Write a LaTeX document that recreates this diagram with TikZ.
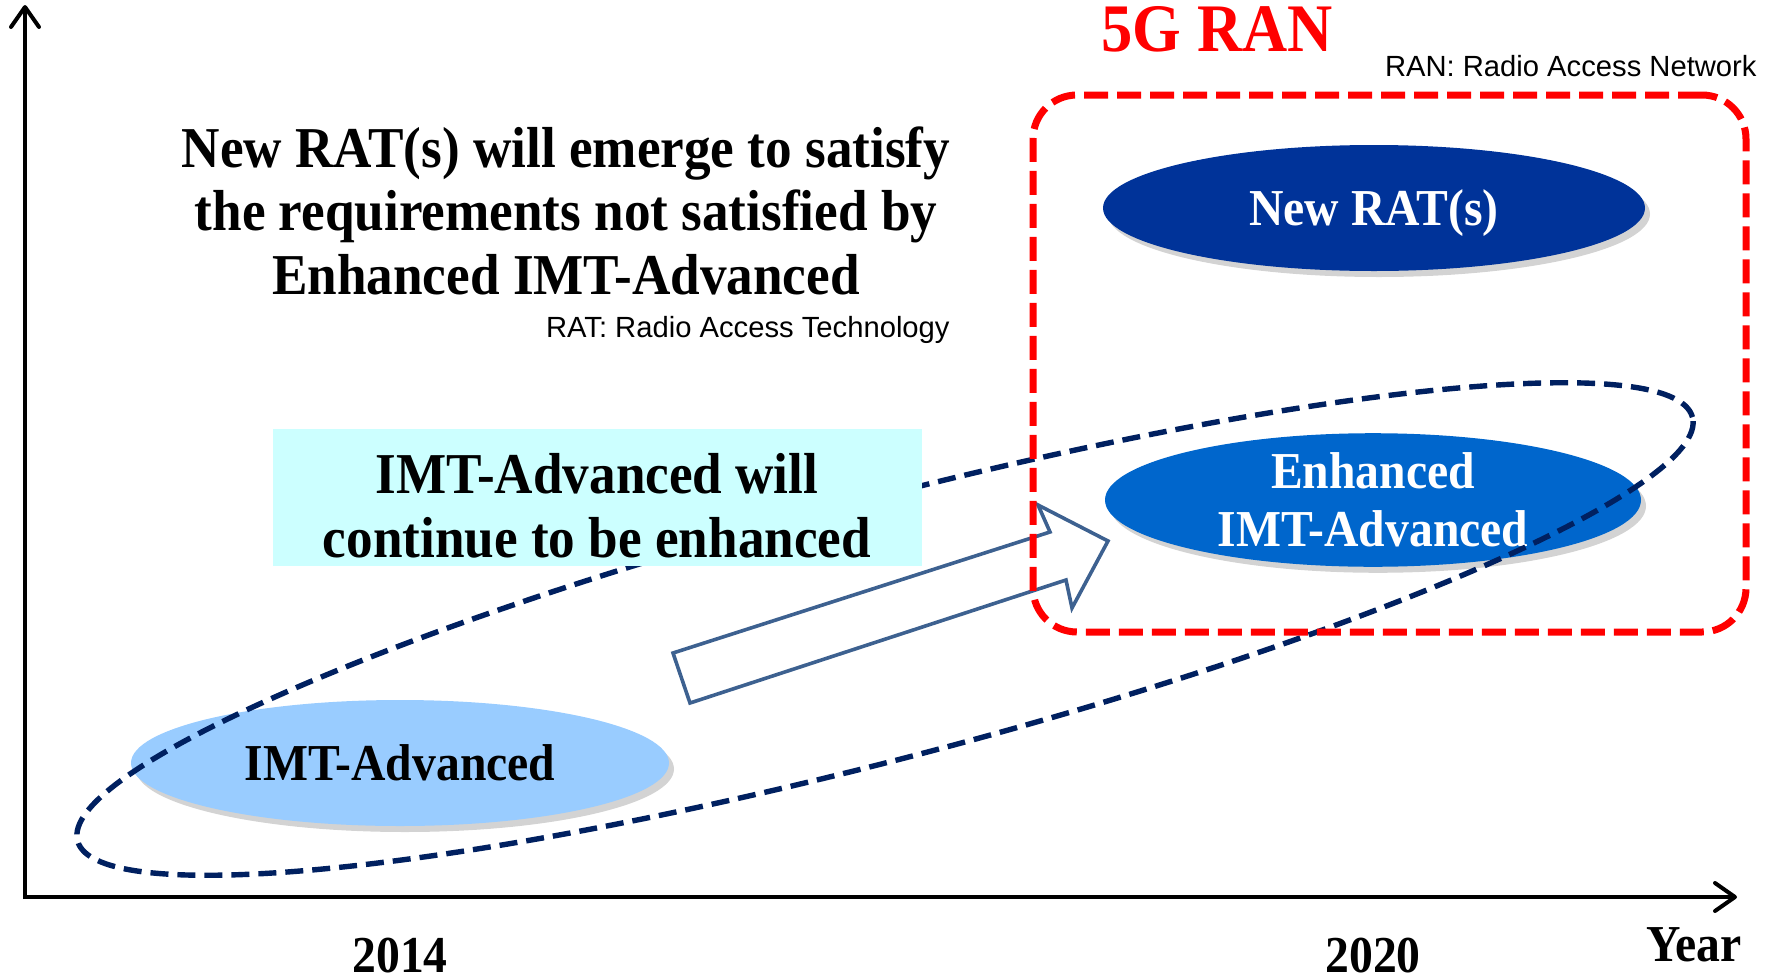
\documentclass[tikz,border=0pt]{standalone}
\usepackage{fontspec}
\setmainfont{Liberation Serif}[FakeStretch=0.92]
\newfontfamily\lsans{Liberation Sans}
\usetikzlibrary{arrows.meta,shapes.geometric,shadows}
\definecolor{navyline}{HTML}{002060}
\definecolor{newrat}{HTML}{003399}
\definecolor{enhimt}{HTML}{0066CC}
\definecolor{imtadv}{HTML}{99CCFF}
\definecolor{cyanbox}{HTML}{CCFFFF}
\definecolor{arrowc}{HTML}{3D6190}
\begin{document}
\begin{tikzpicture}[x=0.5pt,y=-0.5pt,
  bigtxt/.style={font=\bfseries\fontsize{28.9}{31.5}\selectfont, inner sep=0pt},
  midtxt/.style={font=\bfseries\fontsize{25.9}{29}\selectfont, inner sep=0pt},
  lbl/.style={font=\lsans\fontsize{14.6}{17}\selectfont, inner sep=0pt},
  blob/.style={ellipse, inner sep=0pt,
    drop shadow={shadow xshift=2.5pt, shadow yshift=-3pt, opacity=0.35}},
  axisline/.style={line width=2pt, -{Straight Barb[length=10pt,width=14pt,round]}},
]
\useasboundingbox (0,0) rectangle (1769,980);

% axes
\coordinate (ybot) at (25,899);
\coordinate (ytop) at (25,5);
\coordinate (xbeg) at (23,897);
\coordinate (xend) at (1737,897);
\draw[axisline] (ybot) -- (ytop);
\draw[axisline] (xbeg) -- (xend);
\node[midtxt, anchor=base] (y2014) at (400,972) {2014};
\node[midtxt, anchor=base] (y2020) at (1373,972) {2020};
\node[midtxt, anchor=base] (year) at (1694,961) {Year};

% ellipses
\node[blob, fill=imtadv, minimum width=269pt, minimum height=63pt, midtxt] (imt) at (400,763) {IMT-Advanced};
\node[blob, fill=newrat, minimum width=271pt, minimum height=63pt, midtxt, text=white, text depth=0pt] (nrat) at (1374,208) {New RAT(s)};
\node[blob, fill=enhimt, minimum width=268pt, minimum height=63pt, midtxt, text=white, align=center] (enh) at (1373,500) {Enhanced\\IMT-Advanced};

% dashed evolution ellipse
\draw[navyline, line width=2.7pt, dash pattern=on 9pt off 4.5pt, rotate around={14.7:(885,629)}] (885,629) ellipse [x radius=417.4pt, y radius=64.9pt];

% cyan box
\node[fill=cyanbox, minimum width=324.5pt, minimum height=68.5pt, inner sep=0pt] (cbox) at (597.5,497.5) {};
\node[bigtxt, anchor=base] (c1) at (597,493) {IMT-Advanced will};
\node[bigtxt, anchor=base] (c2) at (597,557) {continue to be enhanced};

% top text
\node[bigtxt, anchor=base] (t1) at (566,167) {New RAT(s) will emerge to satisfy};
\node[bigtxt, anchor=base] (t2) at (566,230) {the requirements not satisfied by};
\node[bigtxt, anchor=base] (t3) at (566,294) {Enhanced IMT-Advanced};
\node[lbl, anchor=base east] (ratdef) at (950,337) {RAT: Radio Access Technology};

% block arrow
\draw[arrowc, line width=1.8pt, line join=miter] (673,653) -- (1050,532) -- (1038,505) -- (1108,541) -- (1072,608) -- (1066,580) -- (690,703) -- cycle;

% 5G RAN box
\node[draw=red, line width=3.5pt, dash pattern=on 12pt off 4.5pt, rounded corners=22pt, minimum width=356.5pt, minimum height=268.5pt, inner sep=0pt] (ranbox) at (1389.5,363.5) {};
\node[font=\bfseries\fontsize{34}{40}\selectfont, text=red, anchor=base, inner sep=0pt] (fg) at (1217,51) {5G RAN};
\node[lbl, anchor=base east] (randef) at (1757,76) {RAN: Radio Access Network};
\end{tikzpicture}
\end{document}
